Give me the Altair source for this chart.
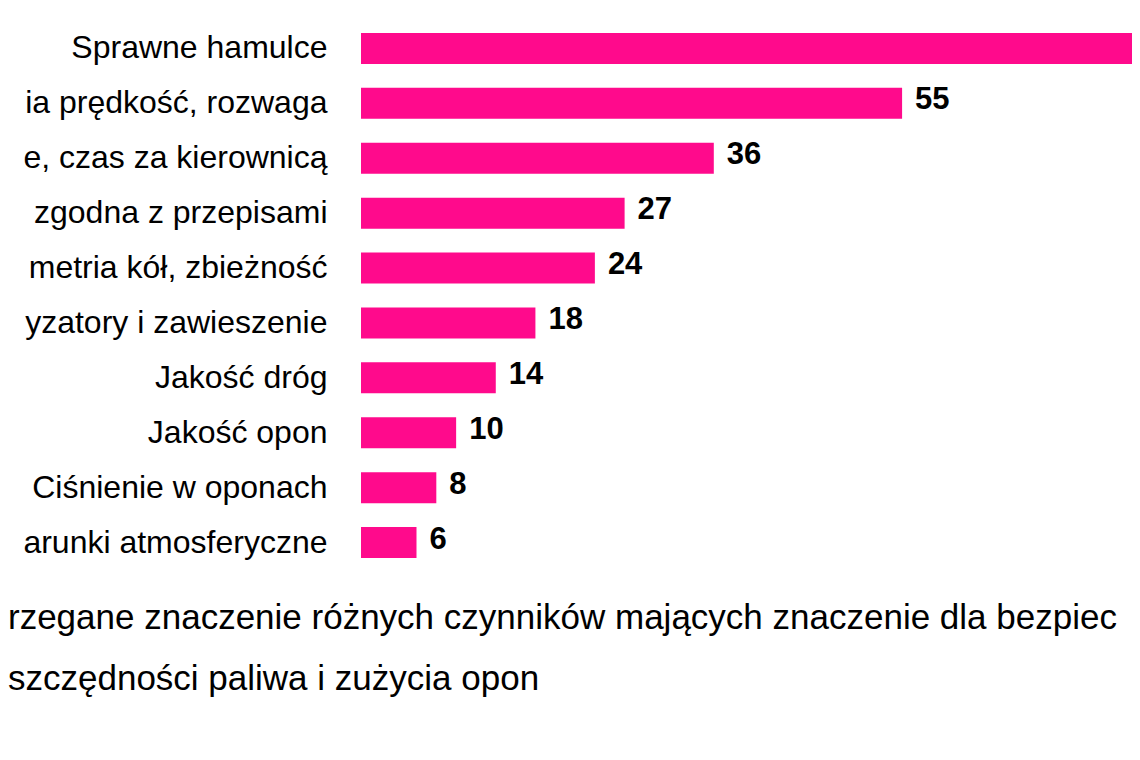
import altair as alt
import pandas as pd

# Category labels as they are visible in the (cropped) reference picture
categories = [
    "Sprawne hamulce",
    "ia prędkość, rozwaga",
    "e, czas za kierownicą",
    "zgodna z przepisami",
    "metria kół, zbieżność",
    "yzatory i zawieszenie",
    "Jakość dróg",
    "Jakość opon",
    "Ciśnienie w oponach",
    "arunki atmosferyczne",
]
values = [83, 55, 36, 27, 24, 18, 14, 10, 8, 6]
caption_lines = [
    "rzegane znaczenie różnych czynników mających znaczenie dla bezpiec",
    "szczędności paliwa i zużycia opon",
]

df = pd.DataFrame({"cat": categories, "val": values})

FONT = "Liberation Sans"
PINK = "#FF0A8C"
W, H = 771, 549
X_MAX = 78.2

y_enc = alt.Y(
    "cat:N",
    sort=None,
    scale=alt.Scale(paddingInner=0.435, paddingOuter=0.2175),
    axis=alt.Axis(
        title=None, domain=False, ticks=False, labelFontSize=32,
        labelFont=FONT, labelColor="#000000", labelPadding=34,
        labelLimit=1000,
    ),
)
x_enc = alt.X(
    "val:Q",
    scale=alt.Scale(domain=[0.4, X_MAX], nice=False, zero=False),
    axis=None,
)

bars = alt.Chart(df).mark_bar(color=PINK, clip=True).encode(x=x_enc, y=y_enc)

# value labels only where they fall inside the visible area (as in the cropped reference)
labels = alt.Chart(df).transform_filter(
    alt.datum.val < X_MAX - 8
).mark_text(
    align="left", baseline="middle", dx=13, dy=-3, fontSize=31,
    fontWeight="bold", font=FONT, color="#000000",
).encode(x=x_enc, y=y_enc, text="val:Q")

cap1 = alt.Chart(pd.DataFrame({"t": [caption_lines[0]]})).mark_text(
    align="left", baseline="alphabetic", fontSize=35, font=FONT, color="#000000"
).encode(text="t:N", x=alt.value(-353), y=alt.value(608))

cap2 = alt.Chart(pd.DataFrame({"t": [caption_lines[1]]})).mark_text(
    align="left", baseline="alphabetic", fontSize=35, font=FONT, color="#000000"
).encode(text="t:N", x=alt.value(-353), y=alt.value(669))

chart = alt.layer(bars, labels, cap1, cap2).properties(
    width=W, height=H,
    autosize=alt.AutoSizeParams(type="none"),
    padding={"left": 353, "top": 13, "right": 0, "bottom": 180},
    background="#FFFFFF",
).configure_view(stroke=None)

chart.save("out.html", embed_options={"renderer": "svg", "actions": False})
